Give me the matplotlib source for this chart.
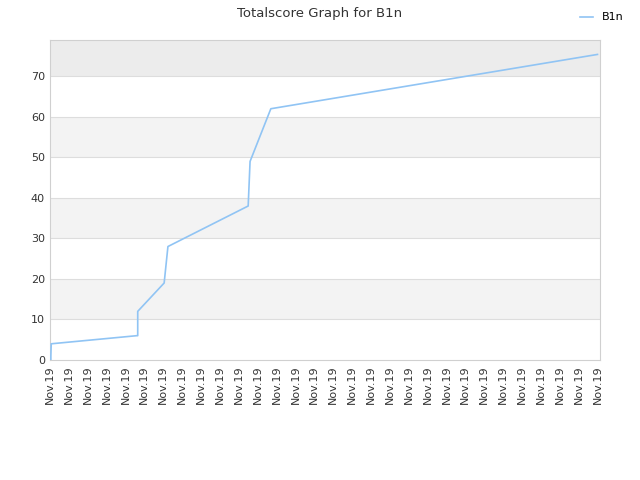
import matplotlib
matplotlib.use("Agg")
import matplotlib.pyplot as plt

# score steps, x in tick-index units
x_vals = [0.05, 0.05, 0.07, 4.6, 4.65, 4.65, 6.05, 6.25, 10.5, 10.6, 11.7, 29.0]
y_vals = [0, 1, 4, 6, 6, 12, 19, 28, 38, 49, 62, 75.4]
tick_labels = ["Nov.19"] * 30
series_name = "B1n"

fig = plt.figure(figsize=(6.4, 4.8), dpi=100)
ax = fig.add_axes([0.078, 0.25, 0.86, 0.667])

# alternating bands
for lo in range(0, 80, 10):
    if (lo // 10) % 2 == 1:
        col = "#ececec" if lo == 70 else "#f3f3f3"
        ax.axhspan(lo, lo + 10, color=col, zorder=0, lw=0)
for yv in range(10, 80, 10):
    ax.axhline(yv, color="#dddddd", lw=0.8, zorder=1)

ax.plot(x_vals, y_vals, color="#90c4f4", lw=1.2, label=series_name, zorder=3)

ax.set_xlim(0, 29.15)
ax.set_ylim(0, 79)
ax.set_xticks(range(30))
ax.set_xticklabels(tick_labels, rotation=90, fontsize=8, color="#333333")
ax.set_yticks(range(0, 80, 10))
ax.tick_params(axis="y", labelsize=8, colors="#333333", length=0)
ax.tick_params(axis="x", length=0, pad=4)
for s in ax.spines.values():
    s.set_color("#d0d0d0")

fig.suptitle("Totalscore Graph for B1n", fontsize=9.5, color="#333333", y=0.985)
fig.legend(loc="upper right", bbox_to_anchor=(0.99, 0.995), frameon=False,
           fontsize=8, handlelength=1.2)

fig.savefig("out.png", dpi=100)
